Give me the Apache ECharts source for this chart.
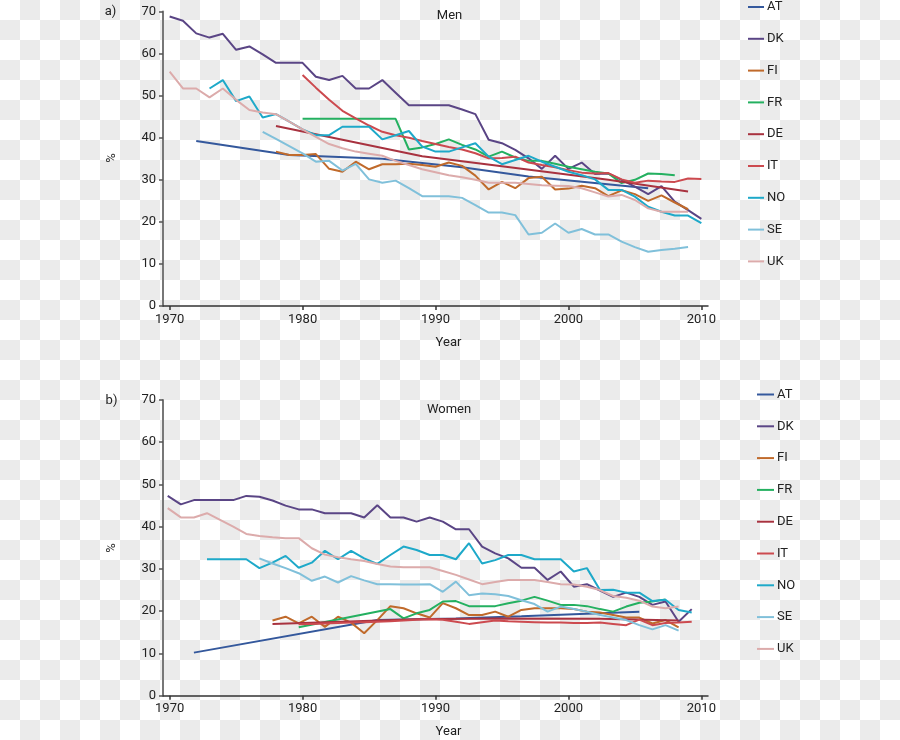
<!DOCTYPE html>
<html>
<head>
<meta charset="utf-8">
<script src="https://cdn.jsdelivr.net/npm/echarts@6/dist/echarts.min.js"></script>
<style>
html,body{margin:0;padding:0;}
body{width:900px;height:740px;background:repeating-conic-gradient(#ebebeb 0 25%, #ffffff 0 50%) 0 0/40px 40px;}
#chart{width:900px;height:740px;}
</style>
</head>
<body>
<div id="chart"></div>
<script>
// ---------- data ----------
const countries = ['AT','DK','FI','FR','DE','IT','NO','SE','UK'];
const colors = ['#34589c','#5a4585','#c06a2b','#24b060','#a8323f','#cc4a4f','#1ea9c9','#80c0da','#dcabab'];
const xTicks = [1970, 1980, 1990, 2000, 2010];
const yTicks = [0, 10, 20, 30, 40, 50, 60, 70];

// Men (panel a)
const AT_M_years = [1972, 1979, 1986, 1992, 1997, 2006];
const AT_M = [39.2, 35.9, 35.0, 33.0, 30.8, 28.0];
const DK_M_start = 1970;
const DK_M = [68.8,67.8,64.8,63.8,64.7,60.9,61.7,59.8,57.8,57.8,57.8,54.5,53.7,54.7,51.7,51.7,53.7,50.7,47.7,47.7,47.7,47.7,46.7,45.6,39.5,38.7,37.1,35.1,32.6,35.7,32.6,34.1,31.4,31.5,30.0,28.4,26.6,28.5,24.8,22.8,20.7];
const FI_M_start = 1978;
const FI_M = [36.7,35.9,35.9,36.1,32.6,31.9,34.3,32.5,33.7,33.7,33.8,33.5,33.1,34.1,33.3,31.0,27.7,29.5,28.0,30.4,30.7,27.7,27.9,28.6,28.0,26.1,27.5,26.6,25.0,26.3,24.6,23.0];
const FR_M_years = [1980,1987,1988,1989,1990,1991,1992,1993,1994,1995,1996,1997,1998,1999,2000,2001,2002,2003,2004,2005,2006,2007,2008];
const FR_M = [44.5,44.5,37.2,37.7,38.5,39.6,38.3,37.2,35.5,36.7,35.3,34.5,34.5,33.8,33.1,32.5,31.9,31.5,29.2,30.0,31.5,31.4,31.1];
const DE_M_years = [1978, 1989, 1995, 2003, 2009];
const DE_M = [42.8, 35.6, 33.2, 30.0, 27.2];
const IT_M_start = 1980;
const IT_M = [54.9,51.9,49.0,46.4,44.6,42.9,41.4,40.6,40.0,39.2,38.5,37.8,37.2,36.3,35.1,35.2,35.5,34.1,33.5,33.0,32.3,31.7,31.5,31.6,30.1,29.3,29.8,29.6,29.5,30.3,30.2];
const NO_M_start = 1973;
const NO_M = [51.7,53.7,48.7,49.8,44.8,45.6,43.8,42.0,40.6,40.6,42.6,42.6,42.6,39.6,40.6,41.6,37.9,36.7,36.7,37.7,38.7,35.5,33.7,34.7,35.7,34.3,33.1,31.9,31.1,30.1,27.6,27.6,26.0,23.6,22.4,21.5,21.5,19.7];
const SE_M_start = 1977;
const SE_M = [41.4,39.7,38.0,36.3,34.3,34.5,32.2,33.8,30.1,29.3,29.8,28.0,26.1,26.1,26.1,25.7,24.0,22.2,22.2,21.6,17.0,17.4,19.6,17.4,18.3,17.0,17.0,15.3,14.0,12.9,13.3,13.6,14.0];
const UK_M_start = 1970;
const UK_M = [55.7,51.7,51.7,49.6,51.7,49.0,46.6,46.0,45.6,43.8,42.0,40.2,38.5,37.5,36.7,36.2,35.7,34.5,33.5,32.5,31.8,31.1,30.6,30.0,29.3,29.3,29.3,29.0,28.7,28.6,28.5,28.0,27.0,26.0,26.4,25.2,23.2,22.4,22.4,22.4];

// Women (panel b)
const AT_W_years = [1972, 1986, 1992, 1997, 2006];
const AT_W = [10.2, 17.9, 18.3, 18.8, 19.9];
const DK_W_start = 1970;
const DK_W = [47.3,45.3,46.3,46.3,46.3,46.3,47.3,47.1,46.2,45.0,44.1,44.1,43.2,43.2,43.2,42.2,45.1,42.2,42.2,41.2,42.2,41.2,39.4,39.4,35.3,33.7,32.5,30.3,30.3,27.4,29.4,25.8,26.4,24.9,23.4,24.4,23.4,21.5,22.3,17.5,20.5];
const FI_W_start = 1978;
const FI_W = [17.8,18.7,17.1,18.7,16.3,18.7,17.3,14.8,17.9,21.2,20.7,19.5,18.5,21.9,20.7,19.1,19.1,19.9,18.7,20.3,20.7,20.7,20.7,20.5,19.9,19.7,19.1,18.5,18.5,17.1,17.9,16.2];
const FR_W_years = [1980,1987,1988,1989,1990,1991,1992,1993,1994,1995,1996,1997,1998,1999,2000,2001,2002,2003,2004,2005,2006,2007,2008];
const FR_W = [16.2,20.5,18.3,19.5,20.3,22.3,22.4,21.2,21.2,21.2,21.9,22.5,23.4,22.5,21.5,21.5,21.2,20.5,19.9,21.1,22.0,22.3,22.8];
const DE_W_years = [1978, 1989, 1995, 2003, 2009];
const DE_W = [17.0, 18.1, 18.3, 18.2, 17.8];
const IT_W_start = 1980;
const IT_W = [16.9,17.0,17.1,17.2,17.3,17.4,17.5,17.6,17.8,18.0,18.1,18.0,17.5,17.0,17.4,17.8,17.6,17.5,17.4,17.3,17.3,17.2,17.2,17.3,17.0,16.7,18.0,16.7,17.2,17.3,17.5];
const NO_W_start = 1973;
const NO_W = [32.3,32.3,32.3,32.3,30.2,31.5,33.1,30.3,31.5,34.3,32.3,34.3,32.5,31.2,33.3,35.3,34.5,33.3,33.3,32.3,36.1,31.3,32.1,33.3,33.3,32.3,32.3,32.3,29.4,30.2,25.0,25.1,24.4,24.4,22.4,22.7,20.3,19.7];
const SE_W_start = 1977;
const SE_W = [32.5,31.3,30.2,29.0,27.2,28.2,26.8,28.3,27.3,26.4,26.4,26.3,26.3,26.4,24.6,27.0,23.8,24.2,24.0,23.6,22.6,21.7,19.9,21.1,20.5,19.9,19.1,18.5,17.9,16.7,15.7,16.7,15.4];
const UK_W_start = 1970;
const UK_W = [44.4,42.2,42.2,43.2,41.6,40.0,38.3,37.8,37.5,37.3,37.3,34.9,33.4,32.8,32.3,31.9,31.2,30.6,30.4,30.4,30.4,29.5,28.6,27.5,26.4,26.9,27.4,27.4,27.4,26.9,26.4,26.3,25.8,25.0,23.6,23.2,22.5,21.1,20.7,21.1];

// ---------- build ----------
function seq(start, vals){ return vals.map((v,i)=>[start+i, v]); }
function zip(years, vals){ return years.map((y,i)=>[y, vals[i]]); }

const men = {
  AT: zip(AT_M_years, AT_M), DK: seq(DK_M_start, DK_M), FI: seq(FI_M_start, FI_M),
  FR: zip(FR_M_years, FR_M), DE: zip(DE_M_years, DE_M), IT: seq(IT_M_start, IT_M),
  NO: seq(NO_M_start, NO_M), SE: seq(SE_M_start, SE_M), UK: seq(UK_M_start, UK_M)
};
const women = {
  AT: zip(AT_W_years, AT_W), DK: seq(DK_W_start, DK_W), FI: seq(FI_W_start, FI_W),
  FR: zip(FR_W_years, FR_W), DE: zip(DE_W_years, DE_W), IT: seq(IT_W_start, IT_W),
  NO: seq(NO_W_start, NO_W), SE: seq(SE_W_start, SE_W), UK: seq(UK_W_start, UK_W)
};

const FONT = 'Roboto, "Noto Sans", sans-serif';
const textCol = '#222';

function xAxisVisible(gi){
  return {
    type:'value', gridIndex:gi, min:1969.5, max:2010.5,
    axisLine:{show:true, lineStyle:{color:'#333', width:1.5}},
    axisTick:{show:true, customValues:xTicks, length:4, lineStyle:{color:'#333', width:1.5}},
    axisLabel:{customValues:xTicks, formatter:v=>String(Math.round(v)), color:textCol, fontSize:13, fontFamily:FONT, margin:7},
    splitLine:{show:false}
  };
}
function yAxisDef(gi){
  return {
    type:'value', gridIndex:gi, min:0, max:70, interval:10,
    axisLine:{show:true, lineStyle:{color:'#777', width:2}},
    axisTick:{show:true, length:4, lineStyle:{color:'#555', width:1.5}},
    axisLabel:{color:textCol, fontSize:13, fontFamily:FONT, margin:7},
    splitLine:{show:false}
  };
}

const series = [];
countries.forEach((c,i)=>{
  series.push({name:c, type:'line', xAxisIndex:0, yAxisIndex:0, data:men[c],
    showSymbol:false, symbol:'none', lineStyle:{width:2, color:colors[i]}, itemStyle:{color:colors[i]},
    animation:false, silent:true});
});
countries.forEach((c,i)=>{
  series.push({name:c, type:'line', xAxisIndex:2, yAxisIndex:1, data:women[c],
    showSymbol:false, symbol:'none', lineStyle:{width:2, color:colors[i]}, itemStyle:{color:colors[i]},
    animation:false, silent:true});
});

function legendDef(left, top, w){
  return {
    orient:'vertical', left:left, top:top, data:countries, padding:0,
    icon:'rect', itemWidth:w, itemHeight:2, itemGap:17.8,
    textStyle:{color:textCol, fontSize:13, fontFamily:FONT, lineHeight:14, padding:[0,0,0,-2]},
    selectedMode:false
  };
}

function txt(x, y, s, extra){
  return Object.assign({type:'text', x:x, y:y, style:Object.assign({text:s, fill:textCol, font:'13px '+FONT, textAlign:'center', textVerticalAlign:'middle'}, extra||{})});
}

const option = {
  backgroundColor:'transparent',
  animation:false,
  grid:[
    {left:163, top:11.5, width:545, height:294.5},
    {left:163, top:400, width:545, height:295.7}
  ],
  xAxis:[
    xAxisVisible(0),
    xAxisVisible(1),
    {type:'value', gridIndex:1, min:1969.641, max:2011.244, show:false, splitLine:{show:false}}
  ],
  yAxis:[ yAxisDef(0), yAxisDef(1) ],
  legend:[ legendDef(748, 0, 16), legendDef(757, 387.5, 17) ],
  series: series,
  graphic:[
    txt(110.5, 12, 'a)'),
    txt(111.5, 401, 'b)'),
    txt(449.5, 16, 'Men'),
    txt(449, 410, 'Women'),
    txt(448.5, 343, 'Year'),
    txt(448.5, 732, 'Year'),
    Object.assign(txt(0, 0, '%'), {x:112, y:158, rotation:Math.PI/2}),
    Object.assign(txt(0, 0, '%'), {x:112, y:548, rotation:Math.PI/2})
  ]
};

const chart = echarts.init(document.getElementById('chart'), null, {renderer:'canvas'});
chart.setOption(option);
</script>
</body>
</html>
